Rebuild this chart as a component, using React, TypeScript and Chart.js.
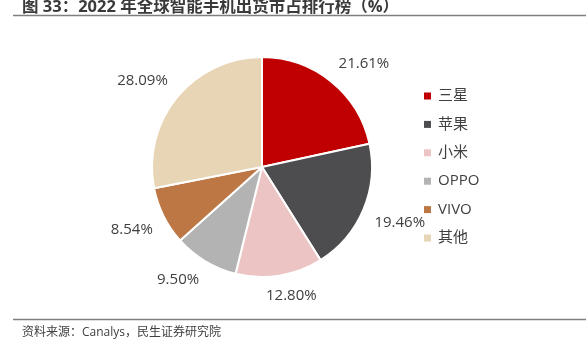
import React, { useEffect, useRef } from "react";
import { Chart, registerables } from "chart.js";

Chart.register(...registerables);

const categories = ["三星", "苹果", "小米", "OPPO", "VIVO", "其他"];
const shares = [21.61, 19.46, 12.8, 9.5, 8.54, 28.09];
const colors = ["#C00000", "#4D4D4F", "#ECC4C4", "#B3B3B3", "#BC7744", "#E8D5B5"];
const titleText = "图 33：2022 年全球智能手机出货市占排行榜（%）";
const sourceText = "资料来源：Canalys，民生证券研究院";

const FONT = '"Open Sans", "Noto Sans CJK SC", sans-serif';
const TEXT = "#404040";

const clamp = (v: number) => Math.max(-1, Math.min(1, v));

const decorPlugin = {
  id: "decor",
  afterDraw(chart: any) {
    const ctx = chart.ctx as CanvasRenderingContext2D;
    ctx.save();
    // title
    ctx.fillStyle = "#3a3a3a";
    ctx.font = `bold 16.5px ${FONT}`;
    ctx.textBaseline = "alphabetic";
    ctx.textAlign = "left";
    ctx.fillText(titleText, 22, 11.5);
    // lines
    ctx.strokeStyle = "#7f7f7f";
    ctx.lineWidth = 1.6;
    ctx.beginPath();
    ctx.moveTo(13, 15.5);
    ctx.lineTo(586, 15.5);
    ctx.moveTo(13, 319.5);
    ctx.lineTo(586, 319.5);
    ctx.stroke();
    // source
    ctx.fillStyle = TEXT;
    ctx.font = `12px ${FONT}`;
    ctx.textBaseline = "middle";
    ctx.fillText(sourceText, 22, 332.5);

    // legend
    ctx.font = `15px ${FONT}`;
    categories.forEach((c, i) => {
      const y = 96 + i * 28.4;
      ctx.fillStyle = colors[i];
      ctx.fillRect(424, y - 3.5, 7, 7);
      ctx.fillStyle = TEXT;
      ctx.textBaseline = "middle";
      ctx.fillText(c, 438, y);
    });

    // data labels
    const meta = chart.getDatasetMeta(0);
    ctx.font = `15px ${FONT}`;
    ctx.textAlign = "center";
    ctx.textBaseline = "middle";
    ctx.fillStyle = TEXT;
    meta.data.forEach((arc: any, i: number) => {
      const p = arc.getProps(["x", "y", "startAngle", "endAngle", "outerRadius"], true);
      const mid = (p.startAngle + p.endAngle) / 2;
      const label = shares[i].toFixed(2) + "%";
      const w = ctx.measureText(label).width;
      const h = 17;
      const c = Math.cos(mid);
      const s = Math.sin(mid);
      const r = p.outerRadius + 12;
      const x = p.x + c * r + (w / 2) * clamp(2.5 * c);
      const y = p.y + s * r + (h / 2) * clamp(2.5 * s);
      ctx.fillText(label, x, y);
    });
    ctx.restore();
  },
};

export default function App() {
  const ref = useRef<HTMLCanvasElement>(null);
  useEffect(() => {
    if (!ref.current) return;
    const chart = new Chart(ref.current, {
      type: "pie",
      data: {
        labels: categories,
        datasets: [
          {
            data: shares,
            backgroundColor: colors,
            borderColor: "#ffffff",
            borderWidth: 2,
            hoverOffset: 0,
          },
        ],
      },
      options: {
        animation: false,
        responsive: false,
        layout: { padding: { left: 151, right: 213, top: 56, bottom: 76 } },
        plugins: {
          legend: { display: false },
          tooltip: { enabled: false },
          title: { display: false },
        },
      },
      plugins: [decorPlugin],
    });
    return () => chart.destroy();
  }, []);
  return (
    <div style={{ position: "fixed", left: 0, top: 0, width: 586, height: 354, background: "#fff" }}>
      <canvas ref={ref} width={586} height={354} style={{ width: 586, height: 354 }} />
    </div>
  );
}
